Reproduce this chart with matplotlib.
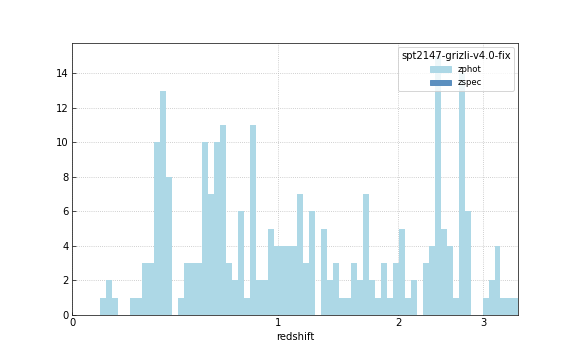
import numpy as np
import matplotlib
matplotlib.use("Agg")
from matplotlib import pyplot as plt
from matplotlib.patches import Patch

# bins uniform in log10(1+z) between z=0.1 and z=3.5
z_min = 0.1
z_max = 3.5
n_bins = 70

zphot_counts = [1, 2, 1, 0, 0, 1, 1, 3, 3, 10,
                13, 8, 0, 1, 3, 3, 3, 10, 7, 10,
                11, 3, 2, 6, 1, 11, 2, 2, 5, 4,
                4, 4, 4, 7, 3, 6, 0, 5, 2, 3,
                1, 1, 3, 2, 7, 2, 1, 3, 1, 3,
                5, 1, 2, 0, 3, 4, 15, 5, 4, 1,
                14, 6, 0, 0, 1, 2, 4, 1, 1, 1]

x_ticks = [0, 1, 2, 3]
field = "spt2147-grizli-v4.0-fix"


def log1p10(z):
    return np.log10(1 + np.clip(z, -0.999, None))


def inv_log1p10(y):
    return 10 ** y - 1


edges = 10 ** np.linspace(np.log10(1 + z_min), np.log10(1 + z_max), n_bins + 1) - 1
centers = np.sqrt((1 + edges[:-1]) * (1 + edges[1:])) - 1

fig, ax = plt.subplots(figsize=(8, 5), dpi=72)
fig.subplots_adjust(left=0.125, right=0.9, top=0.88, bottom=0.125)

ax.set_xscale("function", functions=(log1p10, inv_log1p10))
ax.hist(centers, bins=edges, weights=zphot_counts, color="lightblue", zorder=2)

ax.set_xlim(0, z_max)
ax.set_xticks(x_ticks)
ax.set_xticklabels([str(t) for t in x_ticks])
ax.set_yticks(range(0, 15, 2))
ax.minorticks_off()
ax.tick_params(direction="in", labelsize=10, color="#222222")
ax.set_xlabel("redshift", fontsize=10)
ax.grid(True, linestyle=":", color="#bbbbbb", linewidth=0.8, zorder=0)
ax.set_axisbelow(True)
for s in ax.spines.values():
    s.set_color("#222222")

handles = [Patch(color="lightblue", label="zphot"),
           Patch(color="#5b8fbf", label="zspec")]
leg = ax.legend(handles=handles, loc="upper right", title=field,
                fontsize=8.5, title_fontsize=10, frameon=True,
                handlelength=2.4, handleheight=0.6)
leg.get_frame().set_edgecolor("#cccccc")

plt.savefig("out.png")
